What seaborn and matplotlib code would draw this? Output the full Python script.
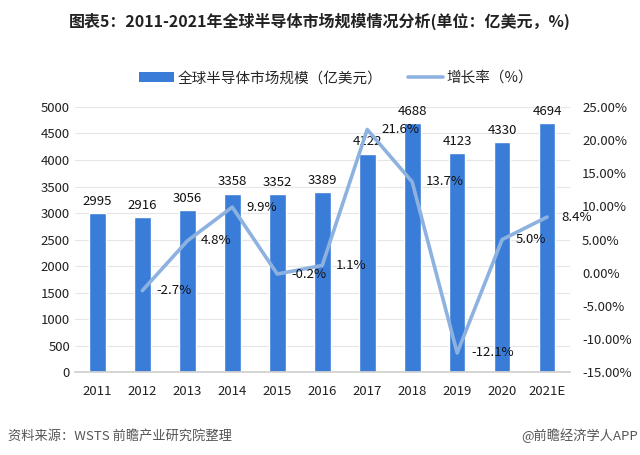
import numpy as np
import pandas as pd
import matplotlib
matplotlib.use("Agg")
import matplotlib.pyplot as plt
from matplotlib.patches import Patch
from matplotlib.lines import Line2D
import seaborn as sns

# data
years = ["2011", "2012", "2013", "2014", "2015", "2016", "2017", "2018", "2019", "2020", "2021E"]
market = [2995, 2916, 3056, 3358, 3352, 3389, 4122, 4688, 4123, 4330, 4694]
growth = [np.nan, -2.7, 4.8, 9.9, -0.2, 1.1, 21.6, 13.7, -12.1, 5.0, 8.4]

title = "图表5：2011-2021年全球半导体市场规模情况分析(单位：亿美元，%)"
bar_name = "全球半导体市场规模（亿美元）"
line_name = "增长率（%）"
source = "资料来源：WSTS 前瞻产业研究院整理"
brand = "@前瞻经济学人APP"

bar_color = "#3a7dd9"
line_color = "#8eb2e0"

sns.set_theme(style="white")
plt.rcParams['font.family'] = ['Noto Sans CJK SC', 'DejaVu Sans']

df = pd.DataFrame({"year": years, "pos": range(len(years)), "market": market, "growth": growth})

fig = plt.figure(figsize=(6.4, 4.55), dpi=100)
ax = fig.add_axes([0.117, 0.182, 0.773, 0.583])

sns.barplot(data=df, x="year", y="market", color=bar_color, width=0.37,
            saturation=1, ax=ax, zorder=2)
ax.set_ylim(0, 5000)
ax.set_yticks(np.arange(0, 5001, 500))
ax.grid(axis="y", color="#e6e6e6", linewidth=0.8, zorder=0)
ax.set_axisbelow(True)
ax.set_xlabel("")
ax.set_ylabel("")
for s in ["top", "right", "left"]:
    ax.spines[s].set_visible(False)
ax.spines["bottom"].set_color("#d0d0d0")
ax.tick_params(axis="both", length=0, labelsize=9.5, colors="#222222")
ax.tick_params(axis="x", pad=9)

for i, v in enumerate(market):
    ax.annotate(str(v), (i, v), xytext=(0, 4), textcoords="offset points",
                ha="center", va="bottom", fontsize=9.5, color="#111111")

ax2 = ax.twinx()
line_df = df.dropna(subset=["growth"])
sns.lineplot(data=line_df, x="pos", y="growth", color=line_color, linewidth=2.6,
             ax=ax2, legend=False)
ax2.set_ylim(-15, 25)
ax2.set_yticks(np.arange(-15, 26, 5))
ax2.set_yticklabels([f"{t:.2f}%" for t in np.arange(-15, 26, 5)])
ax2.set_ylabel("")
ax2.set_xlabel("")
for s in ["top", "right", "left", "bottom"]:
    ax2.spines[s].set_visible(False)
ax2.tick_params(axis="y", length=0, labelsize=9.5, colors="#222222", pad=9)
ax.set_xlim(-0.5, len(years) - 0.5)

for _, r in line_df.iterrows():
    ax2.annotate(f"{r['growth']:.1f}%", (r["pos"], r["growth"]), xytext=(10, 0),
                 textcoords="offset points", ha="left", va="center",
                 fontsize=9.5, color="#111111")

handles = [Patch(facecolor=bar_color, edgecolor="none"),
           Line2D([0], [0], color=line_color, linewidth=2.6)]
fig.legend(handles, [bar_name, line_name], loc="center", bbox_to_anchor=(0.525, 0.828),
           ncol=2, frameon=False, fontsize=10.5, handlelength=2.4, columnspacing=1.8,
           handletextpad=0.2)

fig.text(0.5, 0.952, title, ha="center", va="center", fontsize=11.5, fontweight="bold",
         color="#222222")
fig.text(0.012, 0.042, source, ha="left", va="center", fontsize=9.5, color="#555555")
fig.text(0.997, 0.042, brand, ha="right", va="center", fontsize=9.5, color="#555555")

fig.savefig("out.png", dpi=100, facecolor="white")
